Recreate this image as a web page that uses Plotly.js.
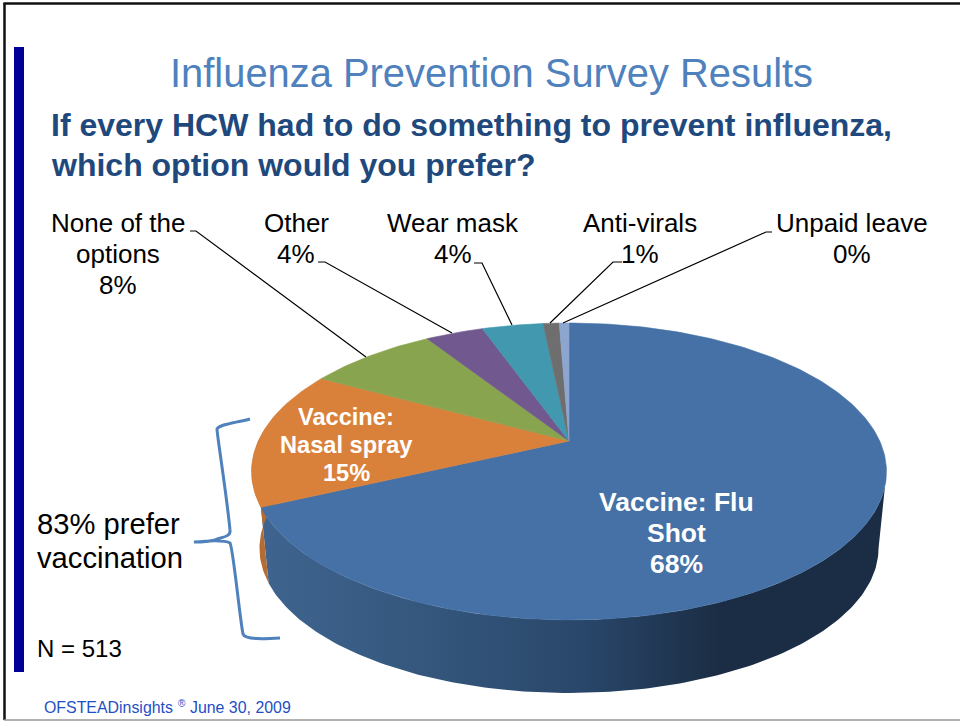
<!DOCTYPE html>
<html><head><meta charset="utf-8">
<script src="https://cdn.plot.ly/plotly-3.0.1.min.js"></script>
<style>html,body{margin:0;padding:0;background:#fff}#c{width:960px;height:721px}</style>
</head><body><div id="c"></div>
<script>
// ---- data ----
const categories = ["Vaccine: Flu Shot","Vaccine: Nasal spray","None of the options","Other","Wear mask","Anti-virals","Unpaid leave"];
const shares = [68,15,8,3.6,3.8,1.0,0.6];
const percentLabels = ["68%","15%","8%","4%","4%","1%","0%"];
const topColors = ["#4571A6","#D9813B","#89A44E","#71588F","#4198AF","#6E6E6E","#8DA6D0"];
const labelLines = [
  {x:118,y:[223,254,285],t:["None of the","options","8%"]},
  {x:296,y:[223,254],t:["Other","4%"]},
  {x:453,y:[223,254],t:["Wear mask","4%"]},
  {x:640,y:[223,254],t:["Anti-virals","1%"]},
  {x:852,y:[223,254],t:["Unpaid leave","0%"]}
];
const insideLabels = [
  {x:676,y:[502,533,564],t:["Vaccine: Flu","Shot","68%"],size:26.5},
  {x:346,y:[417,445,473],t:["Vaccine:","Nasal spray","15%"],size:23.6}
];
const leaders = [
  "M190,231 L196,231 L366,357",
  "M318,262 L325,262 L452,333",
  "M474,263 L482,263 L512,325",
  "M622,262 L613,262 L550,323",
  "M772,232 L766,232 L563,323"
];

// ---- tilted pie projection ----
const cx=569, cy=441, A=310.7, B=142.2, k=0.2054, drop=77.5, shrink=0.975;
function rim(deg){
  const t=deg*Math.PI/180, u=Math.sin(t), v=Math.cos(t), w=1+k*v;
  return [cx+A*u/w, cy-B*v/w];
}
function lower(p){ return [cx+(p[0]-cx)*shrink, cy+drop+(p[1]-cy)*shrink]; }
function arc(a,b,f){
  const out=[], n=Math.max(2,Math.ceil(Math.abs(b-a)));
  for(let i=0;i<=n;i++){ const p=rim(a+(b-a)*i/n); out.push(f?f(p):p); }
  return out;
}
function wall(a,b){
  const pts=arc(a,b).concat(arc(b,a,lower));
  return {x:pts.map(p=>p[0]),y:pts.map(p=>p[1])};
}
const total=shares.reduce((s,v)=>s+v,0);
let acc=0;
const bounds=shares.map(v=>{const a=acc/total*360; acc+=v; return [a,acc/total*360];});

const traces=[];
// side walls
const w1=wall(102,bounds[0][1]);
traces.push({type:"scatter",mode:"lines",x:w1.x,y:w1.y,fill:"toself",hoverinfo:"skip",showlegend:false,
  line:{width:0,color:"#2c4a6c"},
  fillgradient:{type:"horizontal",start:262,stop:720,
    colorscale:[[0,"#3E648F"],[0.35,"#35577D"],[0.7,"#29476A"],[1,"#1B2D44"]]}});
const w2=wall(bounds[0][1],285);
traces.push({type:"scatter",mode:"lines",x:w2.x,y:w2.y,fill:"toself",hoverinfo:"skip",showlegend:false,
  line:{width:0,color:"#B46C32"},fillcolor:"#B46C32"});
// top face slices
bounds.forEach((b,i)=>{
  const pts=[[cx,cy]].concat(arc(b[0],b[1])).concat([[cx,cy]]);
  traces.push({type:"scatter",mode:"lines",name:categories[i],
    x:pts.map(p=>p[0]),y:pts.map(p=>p[1]),
    fill:"toself",fillcolor:topColors[i],line:{width:0.6,color:topColors[i]},
    text:percentLabels[i],hoverinfo:"name+text",showlegend:false});
});

const sans='"Liberation Sans", Arial, sans-serif';
function note(x,y,text,size,color,extra){
  return Object.assign({xref:"x",yref:"y",x:x,y:y,text:text,showarrow:false,xanchor:"center",yanchor:"middle",
    font:{family:sans,size:size,color:color}},extra||{});
}
const left={xanchor:"left"};
const annotations=[];
labelLines.forEach(l=>l.t.forEach((s,i)=>annotations.push(note(l.x,l.y[i],s,26,"#000"))));
insideLabels.forEach(l=>l.t.forEach((s,i)=>annotations.push(note(l.x,l.y[i],"<b>"+s+"</b>",l.size,"#fff"))));
annotations.push(note(491,73,"Influenza Prevention Survey Results",39.9,"#4F81BD"));
annotations.push(note(49,125,"<b>If every HCW had to do something to prevent influenza,</b>",32,"#1F497D",left));
annotations.push(note(49,165,"<b>which option would you prefer?</b>",32,"#1F497D",left));
annotations.push(note(35,524,"83% prefer",29.2,"#000",left));
annotations.push(note(35,558,"vaccination",29.2,"#000",left));
annotations.push(note(35,648,"N = 513",24,"#000",left));
annotations.push(note(42,707,"OFSTEADinsights",15.9,"#1F4FC4",left));
annotations.push(note(176,703,"®",10,"#1F4FC4",left));
annotations.push(note(188,707,"June 30, 2009",15.9,"#1F4FC4",left));

const shapes=[
  {type:"rect",xref:"x",yref:"y",x0:14,x1:24,y0:47,y1:672,fillcolor:"#000099",line:{width:0},layer:"below"},
  {type:"line",xref:"x",yref:"y",x0:3.5,x1:960,y0:3.5,y1:3.5,line:{color:"#111",width:2.5}},
  {type:"line",xref:"x",yref:"y",x0:4.5,x1:4.5,y0:3,y1:720,line:{color:"#111",width:2.5}},
  {type:"line",xref:"x",yref:"y",x0:4,x1:960,y0:720,y1:720,line:{color:"#999",width:1.5}},
  {type:"path",xref:"x",yref:"y",line:{color:"#4F81BD",width:3},
   path:"M250,419 C235,423 220,424 217,429 C217,435 226,490 230,530 C231,537 222,537 215,540 C208,542 200,542 194,542 C205,541 225,540 230,543 C233,547 240,620 243,634 C245,640 265,639 280,638"}
].concat(leaders.map(p=>({type:"path",xref:"x",yref:"y",path:p,line:{color:"#000",width:1.2}})));

Plotly.newPlot("c",traces,{
  width:960,height:721,margin:{l:0,r:0,t:0,b:0},
  paper_bgcolor:"#fff",plot_bgcolor:"#fff",showlegend:false,
  xaxis:{range:[0,960],visible:false,fixedrange:true},
  yaxis:{range:[721,0],visible:false,fixedrange:true},
  annotations:annotations,shapes:shapes
},{displayModeBar:false,staticPlot:true});
</script></body></html>
